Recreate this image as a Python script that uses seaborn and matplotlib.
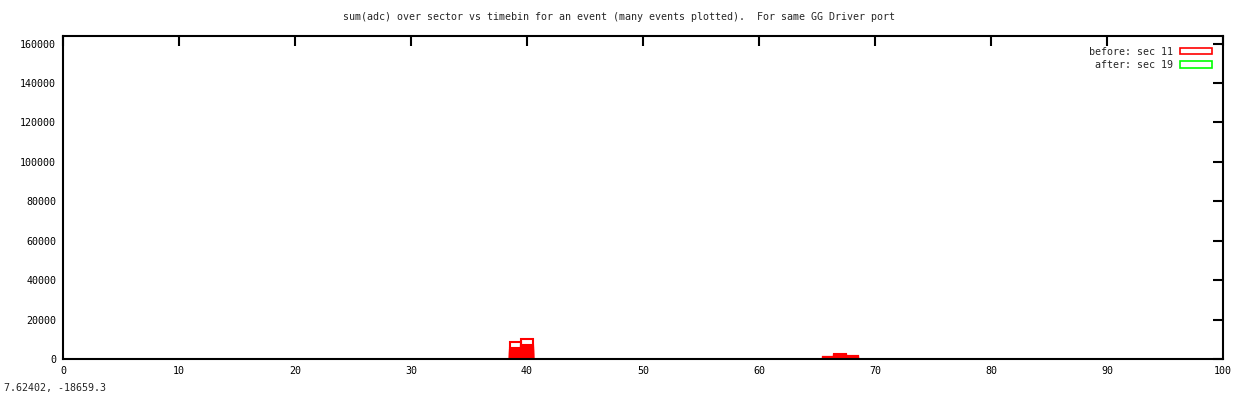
import pandas as pd
import matplotlib.pyplot as plt
import seaborn as sns
from matplotlib.patches import Rectangle

# sum(adc) per timebin, one list per event (sector 11, "before")
timebins = [39, 40, 66, 67, 68]
before_events = [
    [8400, 9900, 1200, 2500, 1500],
    [5500, 7000, 1000, 2200, 1300],
    [4700, 6350, 800, 1900, 1100],
    [4400, 6000, 600, 1600, 900],
    [4100, 5700, 400, 1300, 700],
    [3800, 5400, 200, 1000, 500],
    [3500, 5100, 100, 700, 300],
    [3200, 4800, 0, 400, 100],
    [2900, 4500, 0, 200, 0],
    [2600, 4200, 0, 0, 0],
    [2300, 3900, 0, 0, 0],
    [2000, 3600, 0, 0, 0],
    [1700, 3300, 0, 0, 0],
    [1400, 3000, 0, 0, 0],
    [1100, 2700, 0, 0, 0],
    [800, 2400, 0, 0, 0],
    [500, 2100, 0, 0, 0],
    [300, 1800, 0, 0, 0],
    [0, 1500, 0, 0, 0],
    [0, 1200, 0, 0, 0],
    [0, 900, 0, 0, 0],
    [0, 600, 0, 0, 0],
    [0, 300, 0, 0, 0],
]
labels = ['before: sec 11', 'after: sec 19']

title = 'sum(adc) over sector vs timebin for an event (many events plotted).  For same GG Driver port'

rows = []
for i, ev in enumerate(before_events):
    for tb, v in zip(timebins, ev):
        if v > 0:
            rows.append({'event': i, 'timebin': tb, 'adc': v})
df = pd.DataFrame(rows)

sns.set_style('white')
plt.rcParams['font.family'] = ['DejaVu Sans Mono']
plt.rcParams['font.size'] = 7.2

fig = plt.figure(figsize=(12.38, 3.98), dpi=100)
ax = fig.add_axes([0.0509, 0.098, 0.9370, 0.8125])

sns.barplot(data=df, x='timebin', y='adc', hue='event', native_scale=True,
            dodge=False, fill=False, width=1, errorbar=None,
            palette=['red'] * len(before_events), linewidth=1.5,
            legend=False, ax=ax)

ax.set_xlim(0, 100)
ax.set_ylim(0, 164000)
ax.set_xticks(range(0, 101, 10))
ax.set_xticklabels([str(v) for v in range(0, 101, 10)])
ax.set_yticks(range(0, 160001, 20000))
ax.set_yticklabels([str(v) for v in range(0, 160001, 20000)])
ax.set_xlabel('')
ax.set_ylabel('')
for s in ax.spines.values():
    s.set_linewidth(1.5)
    s.set_color('black')
ax.tick_params(direction='in', length=7, width=1.5, top=True, right=True,
               labelsize=7.2, pad=5, colors='black')

handles = [Rectangle((0, 0), 1, 1, facecolor='white', edgecolor='red', linewidth=1.2),
           Rectangle((0, 0), 1, 1, facecolor='white', edgecolor='#00ff00', linewidth=1.2)]
leg = ax.legend(handles, labels, loc='upper right', frameon=False, markerfirst=False,
                handlelength=3.2, handleheight=0.6, handletextpad=0.7,
                labelspacing=0.35, fontsize=7.2, borderaxespad=0.6,
                bbox_to_anchor=(0.999, 0.997))
for t in leg.get_texts():
    t.set_ha('right')

fig.text(0.5, 0.957, title, ha='center', va='center', fontsize=7.2)
fig.text(0.003, 0.012, '7.62402, -18659.3', ha='left', va='bottom', fontsize=7.2)

fig.savefig('out.png', dpi=100)
